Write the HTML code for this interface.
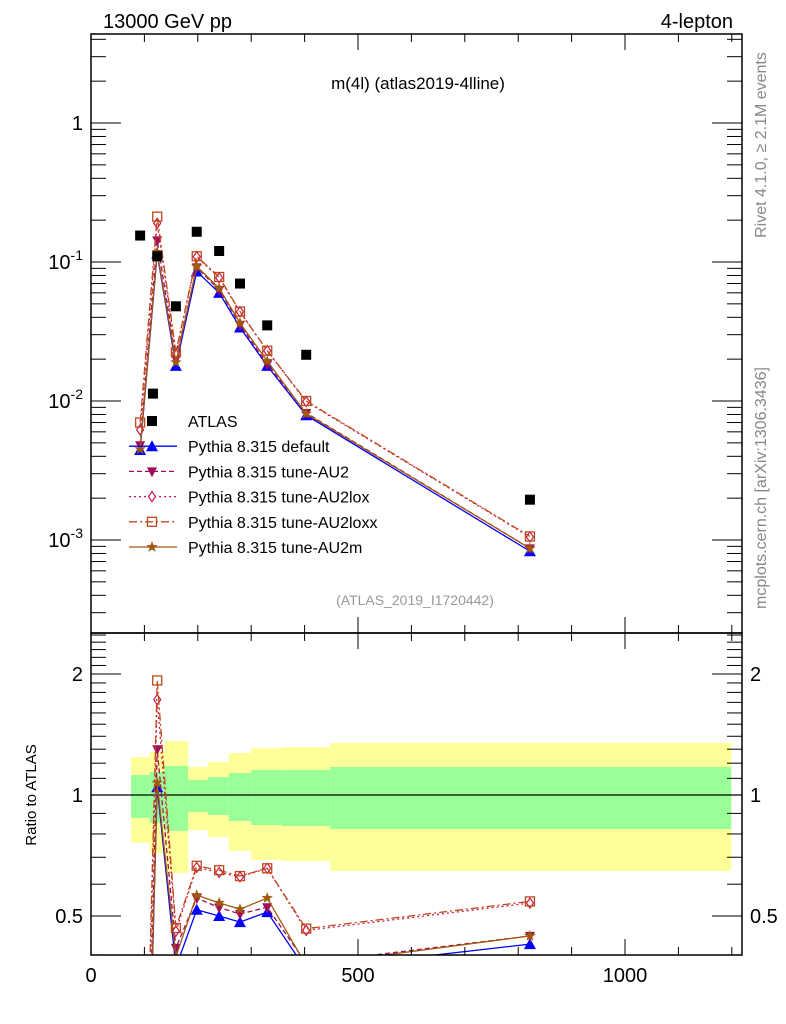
<!DOCTYPE html>
<html><head><meta charset="utf-8"><style>
html,body{margin:0;padding:0;background:#fff;width:786px;height:1024px;overflow:hidden;}
svg{display:block;font-family:"Liberation Sans",sans-serif;}
</style></head><body>
<svg id="c" width="786" height="1024" viewBox="0 0 786 1024">
<text x="103" y="28" font-size="20">13000 GeV pp</text>
<text x="733" y="28" font-size="20" text-anchor="end">4-lepton</text>
<text x="418" y="89" font-size="17" text-anchor="middle">m(4l) (atlas2019-4lline)</text>
<text x="415" y="605" font-size="14" fill="#999" text-anchor="middle">(ATLAS_2019_I1720442)</text>
<text transform="translate(766,145) rotate(-90)" font-size="16" fill="#888" text-anchor="middle">Rivet 4.1.0, ≥ 2.1M events</text>
<text transform="translate(766,488) rotate(-90)" font-size="16" fill="#888" text-anchor="middle">mcplots.cern.ch [arXiv:1306.3436]</text>
<text transform="translate(36,795) rotate(-90)" font-size="15" text-anchor="middle">Ratio to ATLAS</text>
<g id="bands"></g><g id="marks"></g><g id="axes"></g><g id="legend"></g>
</svg>
<script>
// ---- data ----
const dataX = [92, 116, 124, 159, 198, 240, 279, 330, 403, 822];
const dataY = [0.155, 0.0113, 0.11, 0.048, 0.165, 0.12, 0.07, 0.035, 0.0215, 0.00195];
const simX = [92, 124, 159, 198, 240, 279, 330, 403, 822];
const simDefault = [0.00444, 0.115, 0.0179, 0.0855, 0.06, 0.0338, 0.0179, 0.0079, 0.00083];
const simAU2 = [0.0048, 0.143, 0.02, 0.0914, 0.063, 0.0354, 0.0184, 0.0082, 0.00087];
const simAU2lox = [0.0062, 0.19, 0.022, 0.109, 0.077, 0.0438, 0.023, 0.0099, 0.00105];
const simAU2loxx = [0.007, 0.212, 0.0224, 0.11, 0.078, 0.044, 0.023, 0.01, 0.00106];
const simAU2m = [0.0045, 0.118, 0.019, 0.093, 0.0647, 0.0364, 0.0194, 0.0081, 0.00087];
const simRatioRef = [0.155, 0.11, 0.048, 0.165, 0.12, 0.07, 0.035, 0.0215, 0.00195];
const bandEdges = [75, 110, 138, 182, 219, 258, 300, 358, 448, 1199];
const yellowHi = [1.243, 1.279, 1.362, 1.174, 1.208, 1.272, 1.309, 1.316, 1.347];
const yellowLo = [0.760, 0.717, 0.640, 0.818, 0.786, 0.726, 0.689, 0.685, 0.647];
const greenHi = [1.121, 1.141, 1.181, 1.090, 1.108, 1.134, 1.154, 1.154, 1.174];
const greenLo = [0.877, 0.852, 0.814, 0.907, 0.892, 0.862, 0.842, 0.837, 0.823];
const xTicks = [0, 500, 1000];
const mainTicks = [1, 0.1, 0.01, 0.001];
const mainTickLabels = ["1", "10^-1", "10^-2", "10^-3"];
const ratioTicks = [0.5, 1, 2];
const ratioTickLabels = ["0.5", "1", "2"];

// ---- geometry ----
const L=91, R=742, T=34, M=633, B=955;
const X = v => L + v*0.534;
const Ym = v => 123 - Math.log10(v)*139;
const Yr = v => 795 - Math.log10(v)*402;
const NS='http://www.w3.org/2000/svg';
function mk(tag, attrs, parent){const e=document.createElementNS(NS,tag);for(const k in attrs)e.setAttribute(k,attrs[k]);parent.appendChild(e);return e;}
const bands=document.getElementById('bands'), marks=document.getElementById('marks'), axes=document.getElementById('axes'), legend=document.getElementById('legend');
const clipM = mk('clipPath',{id:'cm'},document.getElementById('c')); mk('rect',{x:L,y:T,width:R-L,height:M-T},clipM);
const clipR = mk('clipPath',{id:'cr'},document.getElementById('c')); mk('rect',{x:L,y:M,width:R-L,height:B-M},clipR);

for(let i=0;i<yellowHi.length;i++){
  const x0=X(bandEdges[i]), x1=X(bandEdges[i+1]);
  const y=mk('rect',{x:x0,y:Yr(yellowHi[i]),width:x1-x0,height:Yr(yellowLo[i])-Yr(yellowHi[i]),fill:'#ffff99'},bands);
  
  
  const g=mk('rect',{x:x0,y:Yr(greenHi[i]),width:x1-x0,height:Yr(greenLo[i])-Yr(greenHi[i]),fill:'#99ff99'},bands);
  
  
}
const one=mk('line',{x1:L,x2:R,y1:Yr(1),y2:Yr(1),stroke:'#000','stroke-width':1.2},bands);



function marker(type,x,y,col,parent){
  let e;
  if(type==='sq') e=mk('rect',{x:x-5,y:y-5,width:10,height:10,fill:'#000'},parent);
  else if(type==='tri') e=mk('polygon',{points:`${x},${y-6} ${x-6},${y+5} ${x+6},${y+5}`,fill:col},parent);
  else if(type==='itri') e=mk('polygon',{points:`${x},${y+6} ${x-5},${y-4} ${x+5},${y-4}`,fill:col},parent);
  else if(type==='dia') e=mk('polygon',{points:`${x},${y-5} ${x-3.5},${y} ${x},${y+5} ${x+3.5},${y}`,fill:'#fff',stroke:col,'stroke-width':1.2},parent);
  else if(type==='osq') e=mk('rect',{x:x-4.5,y:y-4.5,width:9,height:9,fill:'none',stroke:col,'stroke-width':1.3},parent);
  else { let p=[];for(let k=0;k<10;k++){const r=k%2?2.5:6,a=-Math.PI/2+k*Math.PI/5;p.push((x+r*Math.cos(a)).toFixed(1)+','+(y+r*Math.sin(a)).toFixed(1));} e=mk('polygon',{points:p.join(' '),fill:col},parent);}
  return e;
}
const series=[
 {name:'default',vals:simDefault,col:'#0000ff',dash:'',m:'tri',label:'Pythia 8.315 default'},
 {name:'au2',vals:simAU2,col:'#a0105a',dash:'5,3',m:'itri',label:'Pythia 8.315 tune-AU2'},
 {name:'au2lox',vals:simAU2lox,col:'#c81850',dash:'2,3',m:'dia',label:'Pythia 8.315 tune-AU2lox'},
 {name:'au2loxx',vals:simAU2loxx,col:'#c04818',dash:'8,3,2,3',m:'osq',label:'Pythia 8.315 tune-AU2loxx'},
 {name:'au2m',vals:simAU2m,col:'#a05a10',dash:'',m:'star',label:'Pythia 8.315 tune-AU2m'}];

const gm=mk('g',{'clip-path':'url(#cm)'},marks), gr=mk('g',{'clip-path':'url(#cr)'},marks);
series.forEach(s=>{
  const pm=simX.map((x,i)=>X(x)+','+Ym(s.vals[i])).join(' ');
  const l=mk('polyline',{points:pm,fill:'none',stroke:s.col,'stroke-width':1.3,'stroke-dasharray':s.dash},gm);
  
  
  const pr=simX.map((x,i)=>X(x)+','+Yr(s.vals[i]/simRatioRef[i])).join(' ');
  const lr=mk('polyline',{points:pr,fill:'none',stroke:s.col,'stroke-width':1.3,'stroke-dasharray':s.dash},gr);
  
  
  simX.forEach((x,i)=>{
    const e=marker(s.m,X(x),Ym(s.vals[i]),s.col,gm);
    
    
    const er=marker(s.m,X(x),Yr(s.vals[i]/simRatioRef[i]),s.col,gr);
    
    
  });
});
dataX.forEach((x,i)=>{
  const e=marker('sq',X(x),Ym(dataY[i]),'#000',gm);
  
  
});

// legend
const lg=[{m:'sq',col:'#000',label:'ATLAS',line:false}].concat(series.map(s=>({m:s.m,col:s.col,label:s.label,dash:s.dash,line:true})));
lg.forEach((e,i)=>{
  const y=421+i*25.2;
  if(e.line){const l=mk('line',{x1:129,x2:177,y1:y,y2:y,stroke:e.col,'stroke-width':1.3,'stroke-dasharray':e.dash},legend);
    
    }
  const mm=marker(e.m,152,y,e.col,legend);
  
  
  const t=mk('text',{x:188,y:y+6,'font-size':16},legend);t.textContent=e.label;
  
  
});

// axes frames
[[T,M],[M,B]].forEach(([a,b])=>{const r=mk('rect',{x:L,y:a,width:R-L,height:b-a,fill:'none',stroke:'#000','stroke-width':1.5},axes);
  
  });
function tick(x1,y1,x2,y2){mk('line',{x1,y1,x2,y2,stroke:'#000','stroke-width':1},axes);}
for(let v=0;v<=1200;v+=100){const x=X(v);const big=v%500===0;const h=big?16:8;
  [T,M].forEach(y=>tick(x,y,x,y+h)); [M,B].forEach(y=>tick(x,y,x,y-h));}
xTicks.forEach(v=>{const t=mk('text',{x:X(v),y:982,'font-size':20,'text-anchor':'middle'},axes);t.textContent=v;
  
  });
// main log ticks
for(let d=-4;d<=0;d++)for(let k=1;k<10;k++){const v=k*Math.pow(10,d);const y=Ym(v);if(y<T||y>M)continue;const h=k===1?30:15;tick(L,y,L+h,y);tick(R,y,R-h,y);}
mainTicks.forEach((v,i)=>{const y=Ym(v);const t=mk('text',{x:83,y:y+7,'font-size':20,'text-anchor':'end'},axes);
  const lab=mainTickLabels[i];
  if(lab.indexOf('^')<0)t.textContent=lab;else{const p=lab.split('^');t.textContent=p[0];const s=mk('tspan',{dy:-9,'font-size':14},t);s.textContent=p[1];}
  
  });
// ratio ticks
for(let v=0.4;v<2.6;v+=0.1){const y=Yr(v);if(y<M||y>B)continue;const big=Math.abs(v-0.5)<1e-6||Math.abs(v-1)<1e-6||Math.abs(v-2)<1e-6;const h=big?30:15;tick(L,y,L+h,y);tick(R,y,R-h,y);}
ratioTicks.forEach((v,i)=>{const y=Yr(v);
  const t=mk('text',{x:83,y:y+7,'font-size':20,'text-anchor':'end'},axes);t.textContent=ratioTickLabels[i];
  
  
  const t2=mk('text',{x:750,y:y+7,'font-size':20},axes);t2.textContent=ratioTickLabels[i];
  
  });
</script>
</body></html>
